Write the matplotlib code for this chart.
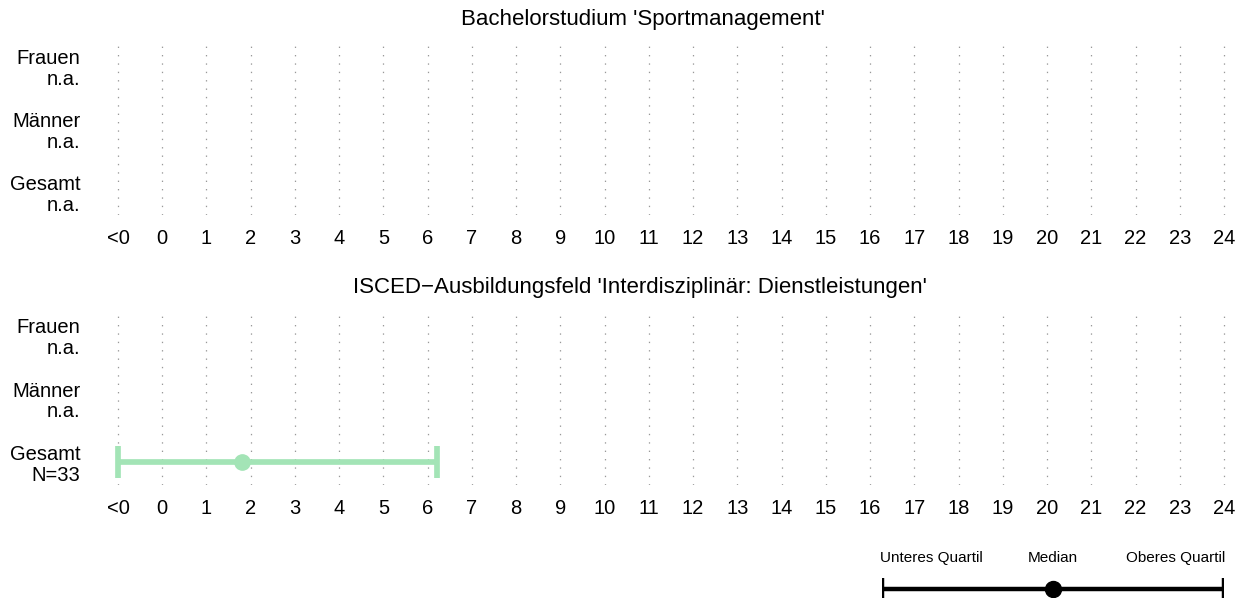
import numpy as np
import matplotlib.pyplot as plt

plt.rcParams['font.family'] = ['Liberation Sans', 'DejaVu Sans']

# data
groups = ['Frauen', 'Männer', 'Gesamt']
tick_labels = ['<0'] + [str(i) for i in range(25)]
tick_pos = np.arange(-1, 25)

titles = ["Bachelorstudium 'Sportmanagement'",
          "ISCED\u2212Ausbildungsfeld 'Interdisziplinär: Dienstleistungen'"]
counts_top = ['n.a.', 'n.a.', 'n.a.']
counts_bottom = ['n.a.', 'n.a.', 'N=33']

# quartiles for Gesamt in bottom panel (-1 means "<0")
q_low = -1.0
q_med = 1.8
q_high = 6.2

legend_labels = ['Unteres Quartil', 'Median', 'Oberes Quartil']
legend_pos = [0.0, 0.5, 1.0]

bar_color = '#a3e4b6'
W, H = 1250, 598

fig = plt.figure(figsize=(12.5, 5.98), dpi=100)


def make_panel(top_px, bottom_px, counts):
    left = 118 - 0.5 * 44.24
    right = 1224 + 0.5 * 44.24
    ax = fig.add_axes([left / W, 1 - bottom_px / H, (right - left) / W,
                       (bottom_px - top_px) / H])
    ax.set_xlim(-1.5, 24.5)
    ax.set_ylim(-0.36, 2.37)
    for s in ax.spines.values():
        s.set_visible(False)
    for x in tick_pos:
        ax.axvline(x, color='#999999', lw=0.9, ls=(0, (1.1, 5.6)), zorder=0)
    ax.set_xticks(tick_pos)
    ax.set_xticklabels(tick_labels, fontsize=14.5)
    ax.tick_params(axis='x', length=0, pad=10)
    ax.set_yticks([2, 1, 0])
    ax.set_yticklabels([f'{g}\n{c}' for g, c in zip(groups, counts)],
                       fontsize=14.5, linespacing=1.1)
    ax.tick_params(axis='y', length=0, pad=11)
    return ax


ax1 = make_panel(43, 215, counts_top)
ax2 = make_panel(312, 485, counts_bottom)

fig.text(643 / W, 1 - 19 / H, titles[0], ha='center', va='center', fontsize=16)
fig.text(640 / W, 1 - 288 / H, titles[1], ha='center', va='center', fontsize=16)

# Gesamt bar in bottom panel
ax2.plot([q_low, q_high], [0, 0], color=bar_color, lw=4.1, solid_capstyle='butt', zorder=3)
ax2.vlines([q_low, q_high], -0.25, 0.25, color=bar_color, lw=4.1, zorder=3)
ax2.plot([q_med], [0], 'o', color=bar_color, ms=11, zorder=4)

# legend
lg = fig.add_axes([882 / W, 0, (1224 - 882) / W, 70 / H])
lg.set_xlim(0, 1)
lg.set_ylim(0, 70)
lg.axis('off')
lg.plot([legend_pos[0], legend_pos[2]], [9, 9], color='black', lw=3.2, solid_capstyle='butt')
lg.vlines([legend_pos[0], legend_pos[2]], -2, 20, color='black', lw=3.2)
lg.plot([legend_pos[1]], [9], 'o', color='black', ms=11.5)
lg.text(-0.005, 40, legend_labels[0], ha='left', va='center', fontsize=11)
lg.text(legend_pos[1], 40, legend_labels[1], ha='center', va='center', fontsize=11)
lg.text(1.005, 40, legend_labels[2], ha='right', va='center', fontsize=11)

fig.savefig('out.png', dpi=100)
